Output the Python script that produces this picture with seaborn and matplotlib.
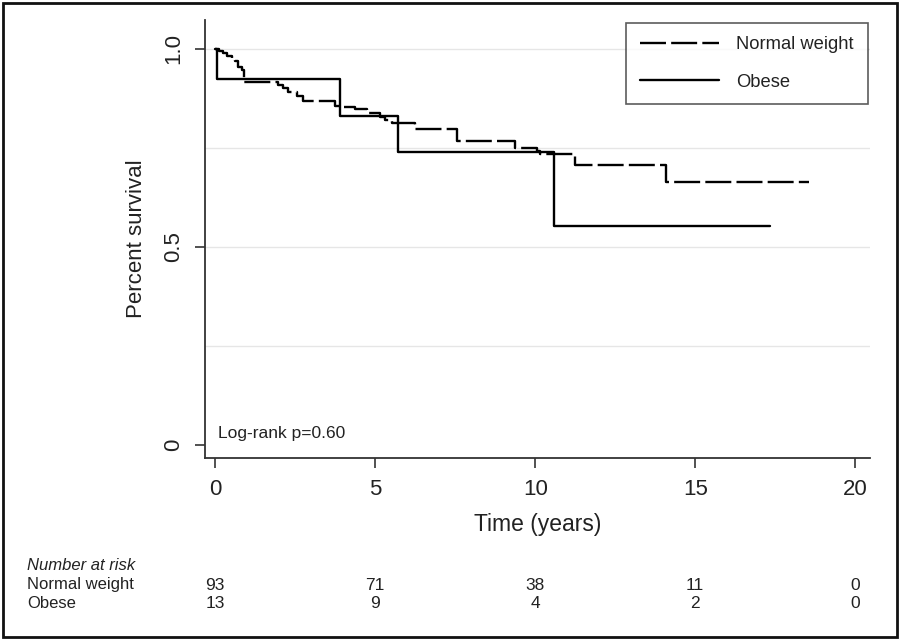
"""
Kaplan-Meier survival curves: normal weight vs obese, with number-at-risk table.
"""
import pandas as pd
import matplotlib
matplotlib.use("Agg")
import matplotlib.pyplot as plt
from matplotlib.patches import Rectangle
import matplotlib.transforms as mtransforms
import seaborn as sns

# step times (years) and survival estimates
NORMAL_T = [0, 0.12, 0.26, 0.36, 0.52, 0.63, 0.73, 0.83, 0.89, 1.97, 2.13,
            2.29, 2.55, 2.76, 3.75, 3.9, 4.38, 4.74, 5.16, 5.31, 5.52, 6.25,
            7.55, 9.38, 10.05, 10.16, 11.25, 14.1, 18.55]
NORMAL_S = [1.0, 0.995, 0.989, 0.981, 0.974, 0.968, 0.955, 0.947, 0.917,
            0.909, 0.900, 0.892, 0.880, 0.869, 0.856, 0.852, 0.848, 0.838,
            0.829, 0.821, 0.812, 0.797, 0.768, 0.749, 0.741, 0.735, 0.707,
            0.665, 0.665]
OBESE_T = [0, 0.05, 3.89, 5.7, 10.6, 17.34]
OBESE_S = [1.0, 0.923, 0.831, 0.739, 0.554, 0.554]

X_TICKS = [0, 5, 10, 15, 20]
Y_TICKS = [0, 0.5, 1.0]
Y_TICK_LABELS = ["0", "0.5", "1.0"]
GRID_Y = [0.25, 0.5, 0.75, 1.0]

RISK_GROUPS = ["Normal weight", "Obese"]
RISK_NORMAL = [93, 71, 38, 11, 0]
RISK_OBESE = [13, 9, 4, 2, 0]

TEXT = "#222222"


def main() -> None:
    sns.set_theme(style="white")
    plt.rcParams["font.family"] = ["Liberation Sans", "DejaVu Sans"]

    fig = plt.figure(figsize=(9, 6.4), dpi=100)
    ax = fig.add_axes([0.228, 0.284, 0.739, 0.685])

    normal = pd.DataFrame({"t": NORMAL_T, "s": NORMAL_S})
    obese = pd.DataFrame({"t": OBESE_T, "s": OBESE_S})

    for yv in GRID_Y:
        ax.axhline(yv, color="#e6e6e6", lw=1.0, zorder=0)

    sns.lineplot(data=normal, x="t", y="s", ax=ax, color="black", lw=1.7,
                 estimator=None, sort=False, drawstyle="steps-post",
                 label="Normal weight")
    sns.lineplot(data=obese, x="t", y="s", ax=ax, color="black", lw=1.7,
                 estimator=None, sort=False, drawstyle="steps-post",
                 label="Obese")
    ax.lines[-2].set_dashes((11, 2.2))

    ax.set_xlim(-0.31, 20.47)
    ax.set_ylim(-0.033, 1.073)
    ax.set_xticks(X_TICKS)
    ax.set_xticklabels([str(v) for v in X_TICKS], fontsize=16, color=TEXT)
    ax.set_yticks(Y_TICKS)
    ax.set_yticklabels(Y_TICK_LABELS, fontsize=16, color=TEXT,
                       rotation=90, va="center")
    ax.tick_params(axis="both", direction="out", length=7, width=1.2,
                   color="#333333", bottom=True, left=True, pad=8)
    for side in ("top", "right"):
        ax.spines[side].set_visible(False)
    for side in ("left", "bottom"):
        ax.spines[side].set_color("#333333")
        ax.spines[side].set_linewidth(1.3)

    ax.set_xlabel("Time (years)", fontsize=16.5, color=TEXT, labelpad=9)
    ax.set_ylabel("Percent survival", fontsize=16, color=TEXT, labelpad=12)

    leg = ax.legend(loc="upper right", bbox_to_anchor=(1.0, 1.0),
                    fontsize=13.2, handlelength=4.3, handletextpad=0.95,
                    frameon=True, fancybox=False, borderpad=0.75,
                    labelspacing=1.1, borderaxespad=0.15)
    leg.get_frame().set_edgecolor("#333333")
    leg.get_frame().set_linewidth(1.2)
    for txt in leg.get_texts():
        txt.set_color(TEXT)

    ax.text(0.1, 0.03, "Log-rank p=0.60", fontsize=12.5, color=TEXT,
            ha="left", va="center")

    # number-at-risk table under the axis
    trans = mtransforms.blended_transform_factory(ax.transData, fig.transFigure)
    fig.text(27 / 900, 1 - 566 / 640, "Number at risk", fontsize=12,
             style="italic", color=TEXT, va="center")
    for row_y, name, counts in [(585, RISK_GROUPS[0], RISK_NORMAL),
                                (604, RISK_GROUPS[1], RISK_OBESE)]:
        fig.text(27 / 900, 1 - row_y / 640, name, fontsize=12,
                 color=TEXT, va="center")
        for xv, n in zip(X_TICKS, counts):
            ax.text(xv, 1 - row_y / 640, str(n), transform=trans,
                    fontsize=12.5, color=TEXT, ha="center", va="center",
                    clip_on=False)

    fig.patches.append(Rectangle((0.003, 0.005), 0.994, 0.99,
                                 transform=fig.transFigure, fill=False,
                                 edgecolor="#111111", lw=2.0))

    fig.savefig("out.png", dpi=100)
    plt.close(fig)


if __name__ == "__main__":
    main()
